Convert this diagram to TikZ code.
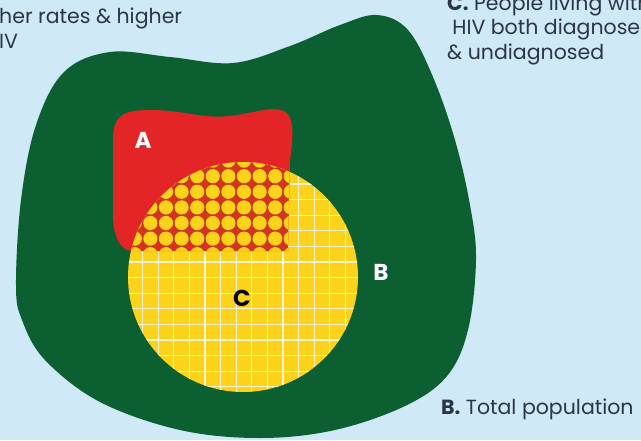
\documentclass[tikz,border=0pt]{standalone}
\usepackage{fontspec}
\setmainfont{Poppins}
\usetikzlibrary{positioning}

\definecolor{skybg}{HTML}{CFE9F7}
\definecolor{popgreen}{HTML}{0B5F31}
\definecolor{hivred}{HTML}{E42528}
\definecolor{crossred}{HTML}{D2351E}
\definecolor{diagyellow}{HTML}{FCD21A}
\definecolor{inktext}{HTML}{2A3646}

% outline of set A (pixel coordinates)
\newcommand{\setAoutline}{(113,215) -- (113,140) .. controls (113,116) and (122,110) .. (150,110)
	.. controls (185,110) and (200,119) .. (230,116) .. controls (255,113) and (270,106) .. (284,111)
	.. controls (295,116) and (293,140) .. (290,160) -- (288,251) -- (132,251)
	.. controls (120,251) and (113,235) .. (113,215) -- cycle}

\begin{document}
\begin{tikzpicture}[
		x=1pt, y=-1pt,
		caption/.style={
			font=\fontsize{20.5}{24.5}\selectfont,
			text=inktext,
			align=left,
			inner sep=0pt
		},
		letter/.style={
			font=\fontsize{23}{23}\selectfont\bfseries,
			inner sep=0pt
		},
		gridline/.style={
			draw=white,
			line width=1.3pt,
			opacity=0.8
		}
		]
		
		% --- BACKGROUND ---
		\useasboundingbox [fill=skybg] (0,0) rectangle (641,440);
		
		% --- B: TOTAL POPULATION ---
		\fill [popgreen] plot [smooth cycle, tension=0.6] coordinates {
			(16,285) (21,200) (36,125) (64,72) (110,52) (170,57) (233,63)
			(290,46) (340,25) (377,15) (408,30) (433,77) (455,140) (470,205)
			(476,260) (468,330) (447,376) (405,406) (335,430) (260,438)
			(180,430) (100,402) (45,360) (22,320)};
		
		% --- A ---
		\fill [hivred] \setAoutline;
		
		% --- C: PEOPLE LIVING WITH HIV ---
		\fill [diagyellow] (243,277) circle [radius=115pt];
		\begin{scope}
			\clip (243,277) circle [radius=115pt];
			\foreach \k in {-6,...,10}
				\draw [gridline] ({205+15.6*\k},150) -- ({205+15.6*\k},400);
			\foreach \k in {-8,...,9}
				\draw [gridline] (120,{262+15.6*\k}) -- (370,{262+15.6*\k});
		\end{scope}
		
		% overlap of A and C: dots on red
		\begin{scope}
			\clip (243,277) circle [radius=115pt];
			\clip \setAoutline;
			\fill [crossred] (100,100) rectangle (300,260);
			\foreach \i in {-6,...,5}
				\foreach \j in {0,...,6}
					\fill [diagyellow] ({212.8+15.6*\i},{254.2-15.6*\j}) circle [radius=7.1pt];
		\end{scope}
		
		% --- LABELS ---
		\node (labA) [letter, text=white] at (143,140) {A};
		\node (labB) [letter, text=white] at (381,272) {B};
		\node (labC) [letter, text=black] at (242,298) {C};
		
		% captions (last line on the base point)
		\node (capTL) [caption, anchor=base west] at (-1,48) {her rates \& higher\\IV};
		\node (capC) [caption, anchor=base west] at (447,59) {\textbf{C.} People living with\\\hspace*{0.25em}HIV both diagnosed\\\& undiagnosed};
		\node (capB) [caption, anchor=base west] at (441,414) {\textbf{B.} Total population};
		
	\end{tikzpicture}
\end{document}
